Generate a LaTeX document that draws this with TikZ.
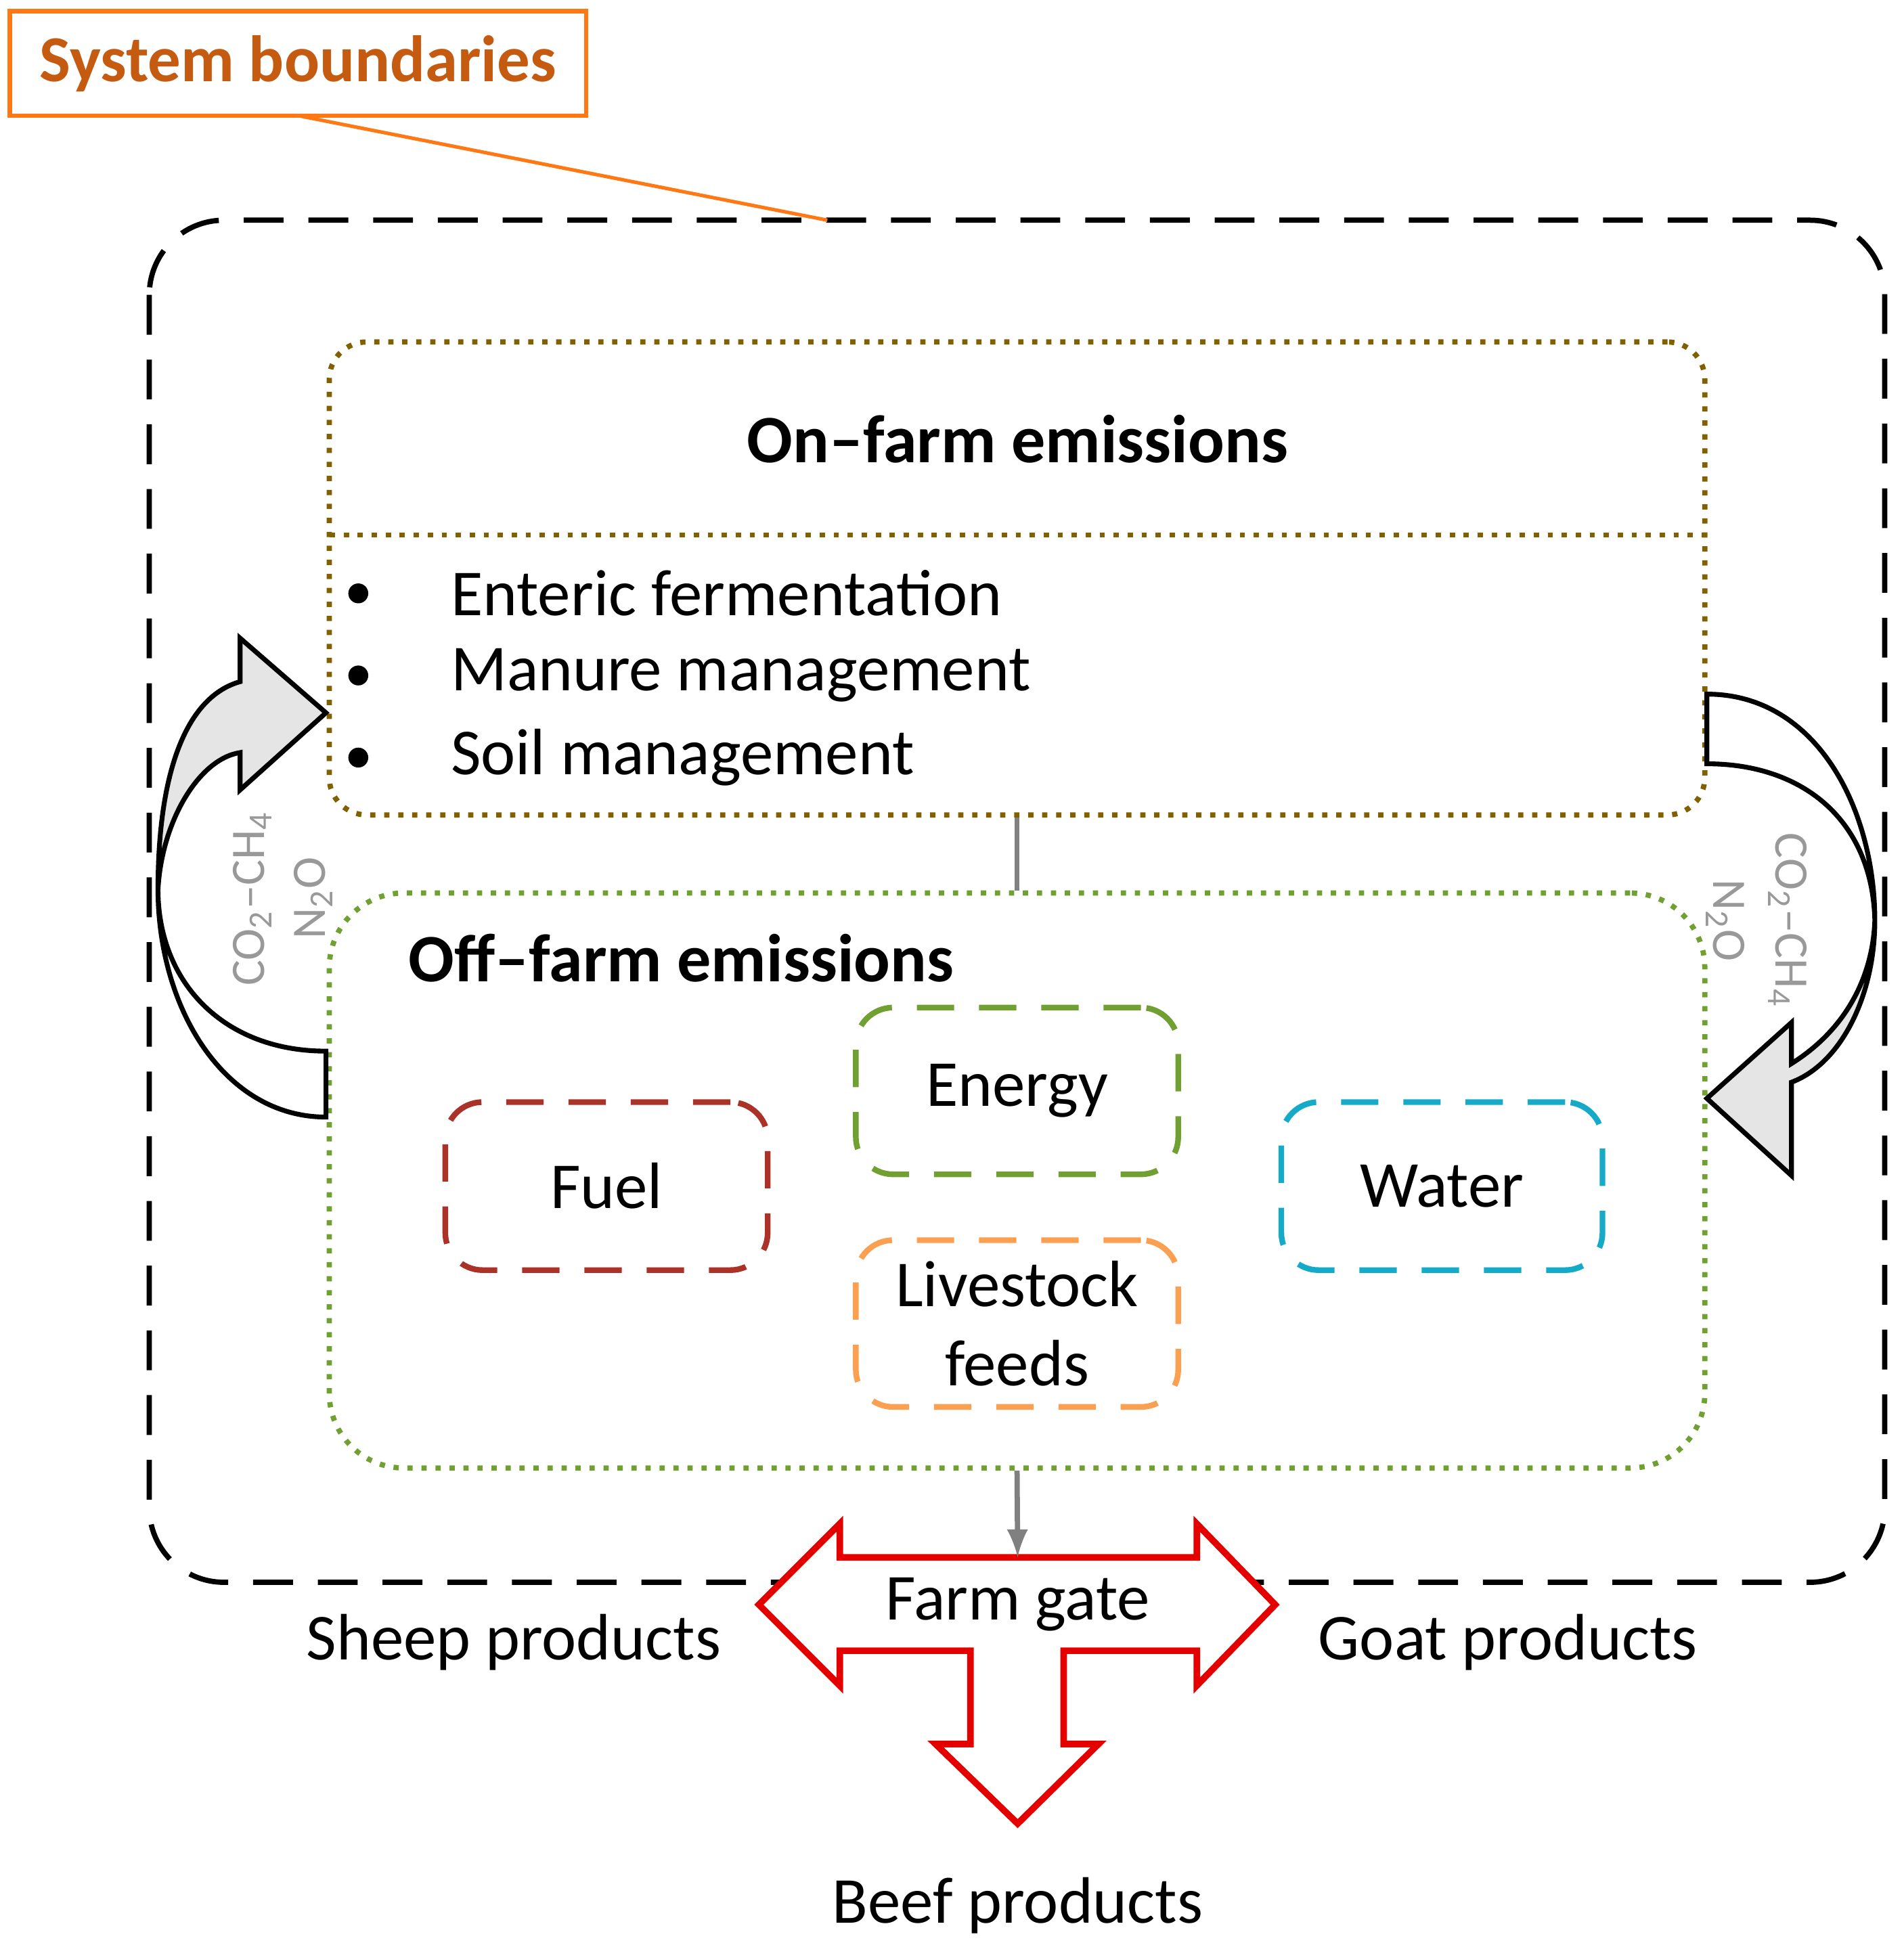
\documentclass[tikz,border=0pt]{standalone}
\usepackage{fontspec}
\setmainfont{Carlito}
\begin{document}
\begin{tikzpicture}[x=0.01cm,y=-0.01cm,
  txt/.style={font=\fontsize{15}{17}\selectfont},
  gas/.style={font=\fontsize{11}{12}\selectfont,text=black!40},
  sub/.style={rounded corners=0.3cm,line width=1.3pt,dash pattern=on 0.3cm off 0.2cm}]
\useasboundingbox (0,0) rectangle (1530,1562);
\definecolor{sbc}{RGB}{197,90,17}
\definecolor{sbl}{RGB}{255,120,20}
\definecolor{onc}{RGB}{128,96,0}
\definecolor{offc}{RGB}{112,160,50}
\definecolor{fuelc}{RGB}{170,50,40}
\definecolor{waterc}{RGB}{20,170,200}
\definecolor{feedc}{RGB}{250,160,80}
% system boundaries
\node[draw=sbl,line width=1pt,minimum width=4.63cm,minimum height=0.84cm,text=sbc,font=\fontsize{15}{17}\selectfont\bfseries] (sb) at (239.5,51) {System boundaries};
\draw[black,line width=1.2pt,rounded corners=0.6cm,dash pattern=on 0.32cm off 0.2cm] (120,177) rectangle (1515,1272);
\coordinate (sbend) at (665,177);
\draw[sbl,line width=0.8pt] (240,93) -- (sbend);
% on-farm
\node[draw=onc,line width=1.2pt,dotted,rounded corners=0.3cm,minimum width=11.05cm,minimum height=3.8cm] (on) at (817.5,465) {};
\draw[onc,line width=1.2pt,dotted] (265,430) -- (1370,430);
\node[font=\fontsize{15.5}{17}\selectfont\bfseries] at (818,353) {On–farm emissions};
\foreach \y/\t in {477/Enteric fermentation,543/Manure management,609/Soil management}{
  \fill (288,\y) circle (8);
  \node[txt,anchor=west] at (350,\y) {\t};}
% off-farm
\node[draw=offc,line width=1.2pt,dotted,rounded corners=0.6cm,minimum width=11.05cm,minimum height=4.62cm] (off) at (817.5,949) {};
\draw[black!50,line width=1.2pt] (on.south) -- (off.north);
\node[font=\fontsize{15.5}{17}\selectfont\bfseries,anchor=west] at (316,770) {Off–farm emissions};
\node[draw=offc,sub,minimum width=2.59cm,minimum height=1.34cm,txt] (en) at (817.5,877) {Energy};
\node[draw=fuelc,sub,minimum width=2.59cm,minimum height=1.35cm,txt] (fu) at (487.5,953.5) {Fuel};
\node[draw=waterc,sub,minimum width=2.58cm,minimum height=1.35cm,txt] (wa) at (1159,953.5) {Water};
\node[draw=feedc,sub,minimum width=2.59cm,minimum height=1.34cm,txt,align=center] (fe) at (817.5,1064) {Livestock\\[1pt]feeds};
% farm gate arrow
\draw[red!90!black,line width=1.5pt,fill=white] (610,1290) -- (675,1225) -- (675,1252) -- (962,1252) -- (962,1225) -- (1025,1290) -- (962,1355) -- (962,1327) -- (855,1327) -- (855,1402) -- (883,1402) -- (818,1466) -- (752,1402) -- (780,1402) -- (780,1327) -- (675,1327) -- (675,1355) -- cycle;
\coordinate (gate) at (818,1252);
\draw[black!50,line width=1.2pt,-latex] (off.south) -- (gate);
\node[txt] at (818,1290) {Farm gate};
\node[txt] at (413,1320) {Sheep products};
\node[txt] at (1212,1320) {Goat products};
\node[txt] at (818,1532) {Beef products};
% left curved arrow
\draw[line width=1.1pt,fill=black!10] (127,715) .. controls (127,620) and (150,560) .. (193,548) -- (193,513) -- (262,573) -- (193,635) -- (193,605) .. controls (160,610) and (130,660) .. (127,715);
\draw[line width=1.1pt,fill=white] (127,715) .. controls (127,810) and (180,898) .. (262,898) -- (262,845) .. controls (180,845) and (127,790) .. (127,715);
% right curved arrow
\draw[line width=1.1pt,fill=white] (1372,558) .. controls (1460,558) and (1507,650) .. (1507,740) .. controls (1505,660) and (1450,614) .. (1372,614) -- cycle;
\draw[line width=1.1pt,fill=black!10] (1507,740) .. controls (1507,800) and (1480,855) .. (1440,870) -- (1440,945) -- (1372,883) -- (1440,822) -- (1440,855) .. controls (1480,830) and (1505,790) .. (1507,740);
% gases
\node[gas,rotate=90] at (203,722) {CO\textsubscript{2}–CH\textsubscript{4}};
\node[gas,rotate=90] at (252,722) {N\textsubscript{2}O};
\node[gas,rotate=-90] at (1437,740) {CO\textsubscript{2}–CH\textsubscript{4}};
\node[gas,rotate=-90] at (1387,740) {N\textsubscript{2}O};
\end{tikzpicture}
\end{document}
